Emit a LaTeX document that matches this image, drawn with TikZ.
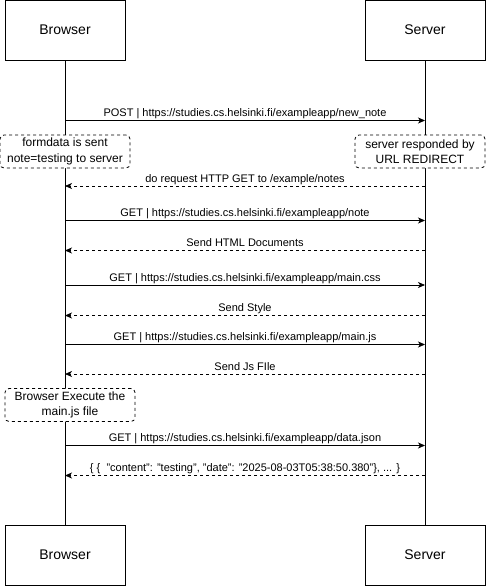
\documentclass[tikz,border=0pt]{standalone}
\usepackage{fontspec}
\setmainfont{Liberation Sans}
\usetikzlibrary{arrows.meta}
\begin{document}
\begin{tikzpicture}[x=1pt,y=-1pt,
  actor/.style={draw,line width=0.8pt,fill=white,minimum width=120pt,minimum height=60pt,inner sep=0pt,font=\fontsize{14}{16}\selectfont},
  lifeline/.style={line width=0.8pt},
  notebox/.style={draw,dash pattern=on 3pt off 3pt,rounded corners=4pt,fill=white,line width=0.8pt,minimum width=130pt,minimum height=33pt,inner sep=1pt,align=center,font=\fontsize{12}{15.5}\selectfont},
  req/.style={line width=0.8pt,-{Stealth[length=7pt,width=6pt,inset=2pt]}},
  resp/.style={req,dash pattern=on 3pt off 3pt},
  lbl/.style={anchor=base,yshift=4pt,inner sep=0pt,font=\fontsize{11}{13}\selectfont}
]
\useasboundingbox (0,0) rectangle (487,586);
% actors
\node[actor] (bt) at (65,30) {Browser};
\node[actor] (st) at (425,30) {Server};
\node[actor] (bb) at (65,555) {Browser};
\node[actor] (sb) at (425,555) {Server};
\draw[lifeline] (bt.south) -- (bb.north);
\draw[lifeline] (st.south) -- (sb.north);
% message anchors
\foreach \n/\y in {1/120.5,2/186,3/220.5,4/250.5,5/285,6/315.5,7/344.5,8/374,9/445.5,10/475.5}{
  \coordinate (b\n) at (65,\y);
  \coordinate (s\n) at (425,\y);
}
% notes
\node[notebox] (n1) at (65,151.5) {formdata is sent\\note=testing to server};
\node[notebox] (n2) at (420,151.5) {server responded by\\URL REDIRECT};
\node[notebox] (n3) at (70,405) {Browser Execute the\\main.js file};
% messages
\draw[req] (b1) -- node[lbl]{POST | https://studies.cs.helsinki.fi/exampleapp/new\_note} (s1);
\draw[resp] (s2) -- node[lbl]{do request HTTP GET to /example/notes} (b2);
\draw[req] (b3) -- node[lbl]{GET | https://studies.cs.helsinki.fi/exampleapp/note} (s3);
\draw[resp] (s4) -- node[lbl]{Send HTML Documents} (b4);
\draw[req] (b5) -- node[lbl]{GET | https://studies.cs.helsinki.fi/exampleapp/main.css} (s5);
\draw[resp] (s6) -- node[lbl]{Send Style} (b6);
\draw[req] (b7) -- node[lbl]{GET | https://studies.cs.helsinki.fi/exampleapp/main.js} (s7);
\draw[resp] (s8) -- node[lbl]{Send Js FIle} (b8);
\draw[req] (b9) -- node[lbl]{GET | https://studies.cs.helsinki.fi/exampleapp/data.json} (s9);
\draw[resp] (s10) -- node[lbl]{\{ \{~~"content": "testing", "date": "2025-08-03T05:38:50.380"\}, ... \}} (b10);
\end{tikzpicture}
\end{document}
